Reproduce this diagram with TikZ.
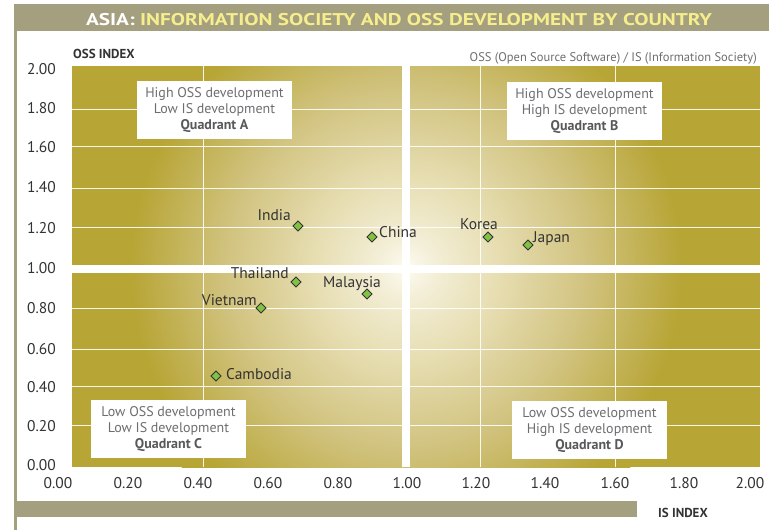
\documentclass[tikz,border=0pt]{standalone}
\usepackage{fontspec}
\setmainfont{PT Sans}
\usetikzlibrary{shapes.geometric}
\definecolor{barcol}{HTML}{A39F7F}
\definecolor{titley}{HTML}{F6EE8C}
\definecolor{plotolive}{HTML}{B7A535}
\definecolor{glowa}{HTML}{FDFBF2}
\definecolor{glowb}{HTML}{F3EED6}
\definecolor{glowc}{HTML}{E7DEB3}
\definecolor{glowd}{HTML}{D1C37F}
\definecolor{boxtext}{HTML}{6D6E71}
\definecolor{boxbold}{HTML}{58595B}
\definecolor{darktext}{HTML}{333333}
\definecolor{ptgreen}{HTML}{82C243}
\pgfdeclareradialshading{glow}{\pgfpoint{0bp}{0bp}}{color(0bp)=(glowa); color(2.5bp)=(glowb); color(7.5bp)=(glowc); color(15bp)=(glowd); color(23bp)=(plotolive); color(50bp)=(plotolive)}
\tikzset{
  gridline/.style={draw=white, line width=0.9pt, opacity=0.9},
  quadbox/.style={fill=white, minimum width=155pt, minimum height=58pt, inner sep=0pt, align=center, text=boxtext, font=\fontsize{14}{16}\selectfont},
  ticklab/.style={inner sep=0pt, text=darktext, font=\fontsize{15.5}{18}\selectfont},
  ptmark/.style={diamond, draw=darktext, fill=ptgreen, line width=0.9pt, minimum size=10.5pt, inner sep=0pt},
  ptlab/.style={inner sep=0pt, text=darktext, font=\fontsize{15.5}{18}\selectfont},
  axlab/.style={inner sep=0pt, text=darktext, font=\bfseries\fontsize{13}{15}\selectfont}
}
\begin{document}
\begin{tikzpicture}[x=1pt,y=-1pt]
\useasboundingbox (0,0) rectangle (769,530);
\fill[white] (0,0) rectangle (769,530);
% frame
\fill[barcol] (14,4) rectangle (769,31);
\fill[barcol] (14,4) rectangle (16.5,530);
\fill[barcol] (14,501) rectangle (637,517);
\node[inner sep=0pt, anchor=base, font=\bfseries\fontsize{17}{19}\selectfont] (title) at (399,25)
  {\scalebox{1.25}[1]{\textcolor{white}{ASIA:} \textcolor{titley}{INFORMATION SOCIETY AND OSS DEVELOPMENT BY COUNTRY}}};
% plot background
\begin{scope}
\clip (72,66) rectangle (760,467);
\fill[plotolive] (72,66) rectangle (760,467);
\shade[shading=glow] (406,268) circle (300);
\end{scope}
% grid
\foreach \gx in {203,480,615} \draw[gridline] (\gx,66) -- (\gx,467);
\foreach \gy in {109,146,188,227,308,349,386,425} \draw[gridline] (72,\gy) -- (760,\gy);
\fill[white] (402,66) rectangle (410,467);
\fill[white] (72,265) rectangle (760,273);
% axis labels
\node[axlab, anchor=base west] (ossidx) at (73,58) {OSS INDEX};
\node[axlab, anchor=base west] (isidx) at (658,517) {IS INDEX};
\node[inner sep=0pt, anchor=base east, text=boxtext, font=\fontsize{12.5}{15}\selectfont] (note) at (757,61) {OSS (Open Source Software) / IS (Information Society)};
% y ticks
\foreach \v/\yy [count=\i] in {2.00/69,1.80/108,1.60/147,1.40/187,1.20/228,1.00/268,0.80/308,0.60/349,0.40/387,0.20/426,0.00/465}
  \node[ticklab, anchor=east] (yt\i) at (56,\yy) {\v};
% x ticks
\foreach \v/\xx [count=\i] in {0.00/58,0.20/128,0.40/198,0.60/268,0.80/338,1.00/407,1.20/476,1.40/545,1.60/615,1.80/684,2.00/750}
  \node[ticklab] (xt\i) at (\xx,483) {\v};
% quadrant boxes
\node[quadbox] (qa) at (214.5,110) {High OSS development\\Low IS development\\\textbf{\textcolor{boxbold}{Quadrant A}}};
\node[quadbox] (qb) at (584.5,111) {High OSS development\\High IS development\\\textbf{\textcolor{boxbold}{Quadrant B}}};
\node[quadbox] (qc) at (168.5,429) {Low OSS development\\Low IS development\\\textbf{\textcolor{boxbold}{Quadrant C}}};
\node[quadbox] (qd) at (589.5,430) {Low OSS development\\High IS development\\\textbf{\textcolor{boxbold}{Quadrant D}}};
% data points
\node[ptmark] (india) at (298,226) {};
\node[ptmark] (china) at (372,237) {};
\node[ptmark] (korea) at (488,237) {};
\node[ptmark] (japan) at (528,245) {};
\node[ptmark] (thailand) at (296,282) {};
\node[ptmark] (malaysia) at (367,294) {};
\node[ptmark] (vietnam) at (261,308) {};
\node[ptmark] (cambodia) at (216,376) {};
% point labels
\node[ptlab, anchor=base east] (lindia) at (291,220) {India};
\node[ptlab, anchor=base west] (lchina) at (379,237) {China};
\node[ptlab, anchor=base] (lkorea) at (479,229) {Korea};
\node[ptlab, anchor=base west] (ljapan) at (533,242) {Japan};
\node[ptlab, anchor=base east] (lthailand) at (289,278) {Thailand};
\node[ptlab, anchor=base] (lmalaysia) at (352,287) {Malaysia};
\node[ptlab, anchor=base east] (lvietnam) at (257,305) {Vietnam};
\node[ptlab, anchor=base west] (lcambodia) at (226,379) {Cambodia};
\end{tikzpicture}
\end{document}
